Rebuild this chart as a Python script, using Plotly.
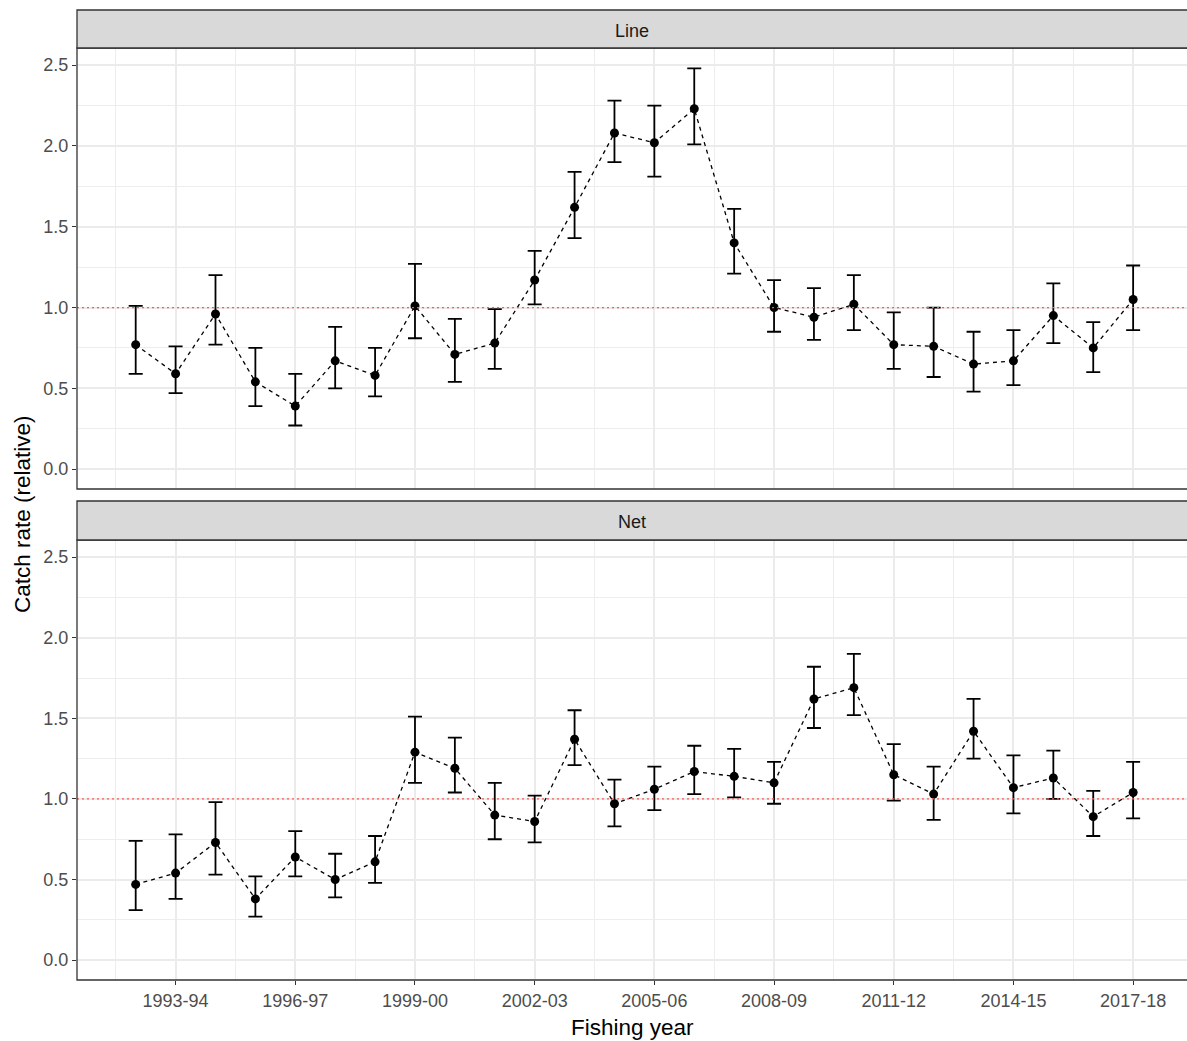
import plotly.graph_objects as go
from plotly.subplots import make_subplots

# Fishing years (start year of each season)
fishing_years = ["1992-93", "1993-94", "1994-95", "1995-96", "1996-97", "1997-98",
                 "1998-99", "1999-00", "2000-01", "2001-02", "2002-03", "2003-04",
                 "2004-05", "2005-06", "2006-07", "2007-08", "2008-09", "2009-10",
                 "2010-11", "2011-12", "2012-13", "2013-14", "2014-15", "2015-16",
                 "2016-17", "2017-18"]

# Line fishery: relative catch rate with lower / upper confidence bounds
line_est = [0.77, 0.59, 0.96, 0.54, 0.39, 0.67, 0.58, 1.01, 0.71, 0.78, 1.17, 1.62, 2.08,
            2.02, 2.23, 1.40, 1.00, 0.94, 1.02, 0.77, 0.76, 0.65, 0.67, 0.95, 0.75, 1.05]
line_lo = [0.59, 0.47, 0.77, 0.39, 0.27, 0.50, 0.45, 0.81, 0.54, 0.62, 1.02, 1.43, 1.90,
           1.81, 2.01, 1.21, 0.85, 0.80, 0.86, 0.62, 0.57, 0.48, 0.52, 0.78, 0.60, 0.86]
line_hi = [1.01, 0.76, 1.20, 0.75, 0.59, 0.88, 0.75, 1.27, 0.93, 0.99, 1.35, 1.84, 2.28,
           2.25, 2.48, 1.61, 1.17, 1.12, 1.20, 0.97, 1.00, 0.85, 0.86, 1.15, 0.91, 1.26]

# Net fishery
net_est = [0.47, 0.54, 0.73, 0.38, 0.64, 0.50, 0.61, 1.29, 1.19, 0.90, 0.86, 1.37, 0.97,
           1.06, 1.17, 1.14, 1.10, 1.62, 1.69, 1.15, 1.03, 1.42, 1.07, 1.13, 0.89, 1.04]
net_lo = [0.31, 0.38, 0.53, 0.27, 0.52, 0.39, 0.48, 1.10, 1.04, 0.75, 0.73, 1.21, 0.83,
          0.93, 1.03, 1.01, 0.97, 1.44, 1.52, 0.99, 0.87, 1.25, 0.91, 1.00, 0.77, 0.88]
net_hi = [0.74, 0.78, 0.98, 0.52, 0.80, 0.66, 0.77, 1.51, 1.38, 1.10, 1.02, 1.55, 1.12,
          1.20, 1.33, 1.31, 1.23, 1.82, 1.90, 1.34, 1.20, 1.62, 1.27, 1.30, 1.05, 1.23]

panels = ["Line", "Net"]
x_tick_labels = ["1993-94", "1996-97", "1999-00", "2002-03", "2005-06",
                 "2008-09", "2011-12", "2014-15", "2017-18"]
y_tick_values = [0.0, 0.5, 1.0, 1.5, 2.0, 2.5]

FONT = "Liberation Sans, Arial, sans-serif"
W, H = 1187, 1041
ML, MR, MT, MB = 77, 0, 10, 61
plot_h = H - MT - MB


def ypaper(px):
    return (H - MB - px) / plot_h


x_vals = [int(fy[:4]) for fy in fishing_years]
x_ticks = [int(t[:4]) for t in x_tick_labels]
x_minor = [t - 1.5 for t in x_ticks] + [x_ticks[-1] + 1.5]

fig = make_subplots(rows=2, cols=1, shared_xaxes=True)

series = [(line_est, line_lo, line_hi), (net_est, net_lo, net_hi)]
for row, (est, lo, hi) in enumerate(series, start=1):
    fig.add_trace(go.Scatter(
        x=x_vals, y=est, mode="lines+markers",
        line=dict(color="black", width=1.3, dash="4px,4px"),
        marker=dict(color="black", size=9),
        error_y=dict(type="data", symmetric=False,
                     array=[h - e for h, e in zip(hi, est)],
                     arrayminus=[e - l for e, l in zip(est, lo)],
                     color="black", thickness=1.8, width=7),
        showlegend=False, hoverinfo="x+y",
    ), row=row, col=1)

# Panel domains (top panel / bottom panel)
top_dom = [ypaper(489), ypaper(48)]
bot_dom = [ypaper(980), ypaper(540)]
strip_top = [ypaper(48), ypaper(10)]
strip_bot = [ypaper(540), ypaper(501)]

x_range = [1992 - 1.471, 1992 + 26.35]
y_range = [-0.123, 2.606]

axis_common = dict(
    range=x_range, tickmode="array", tickvals=x_ticks,
    showgrid=True, gridcolor="#EBEBEB", gridwidth=1.5, zeroline=False,
    showline=False,
    minor=dict(tickmode="array", tickvals=x_minor, showgrid=True,
               gridcolor="#EDEDED", gridwidth=1.1, ticks=""),
)
fig.update_layout(
    xaxis=dict(**axis_common, showticklabels=False, ticks=""),
    xaxis2=dict(**axis_common, ticktext=x_tick_labels, showticklabels=True,
                ticks="outside", ticklen=4, tickwidth=1.3, tickcolor="#333333",
                tickfont=dict(family=FONT, size=18, color="#4D4D4D")),
)
for ax, dom in (("yaxis", top_dom), ("yaxis2", bot_dom)):
    fig.layout[ax].update(
        domain=dom, range=y_range, tickmode="array", tickvals=y_tick_values,
        tickformat=".1f", ticks="outside", ticklen=4, tickwidth=1.3,
        tickcolor="#333333", tickfont=dict(family=FONT, size=18, color="#4D4D4D"),
        showgrid=True, gridcolor="#EBEBEB", gridwidth=1.5, zeroline=False,
        showline=False,
        minor=dict(tickmode="array", tickvals=[0.25, 0.75, 1.25, 1.75, 2.25],
                   showgrid=True, gridcolor="#EDEDED", gridwidth=1.1, ticks=""),
    )

shapes = []
for xref, yref in (("x", "y"), ("x2", "y2")):
    # reference line at a relative catch rate of 1
    shapes.append(dict(type="line", xref=f"{xref} domain", yref=yref,
                       x0=0, x1=1, y0=1, y1=1,
                       line=dict(color="#FF5A5A", width=1.3, dash="2px,3px"),
                       layer="above"))
# panel borders
for dom in (top_dom, bot_dom):
    shapes.append(dict(type="rect", xref="paper", yref="paper",
                       x0=0, x1=1.02, y0=dom[0], y1=dom[1],
                       line=dict(color="#333333", width=1.3),
                       fillcolor="rgba(0,0,0,0)", layer="above"))
# facet strips
for dom in (strip_top, strip_bot):
    shapes.append(dict(type="rect", xref="paper", yref="paper",
                       x0=0, x1=1.02, y0=dom[0], y1=dom[1],
                       line=dict(color="#333333", width=1.3),
                       fillcolor="#D9D9D9", layer="above"))

annotations = [
    dict(text=panels[0], xref="paper", yref="paper", x=0.5,
         y=ypaper(31), showarrow=False,
         font=dict(family=FONT, size=18, color="#1A1A1A"),
         xanchor="center", yanchor="middle"),
    dict(text=panels[1], xref="paper", yref="paper", x=0.5,
         y=ypaper(522), showarrow=False,
         font=dict(family=FONT, size=18, color="#1A1A1A"),
         xanchor="center", yanchor="middle"),
    dict(text="Fishing year", xref="paper", yref="paper", x=0.5, y=ypaper(1027),
         showarrow=False, font=dict(family=FONT, size=22.5, color="black"),
         xanchor="center", yanchor="middle"),
    dict(text="Catch rate (relative)", xref="paper", yref="paper",
         x=(22 - ML) / (W - ML - MR), y=ypaper(514), textangle=-90,
         showarrow=False, font=dict(family=FONT, size=22.5, color="black"),
         xanchor="center", yanchor="middle"),
]

fig.update_layout(
    width=W, height=H,
    margin=dict(l=ML, r=MR, t=MT, b=MB, pad=0),
    paper_bgcolor="white", plot_bgcolor="white",
    shapes=shapes, annotations=annotations,
    font=dict(family=FONT),
)

fig.write_html("out.html")
